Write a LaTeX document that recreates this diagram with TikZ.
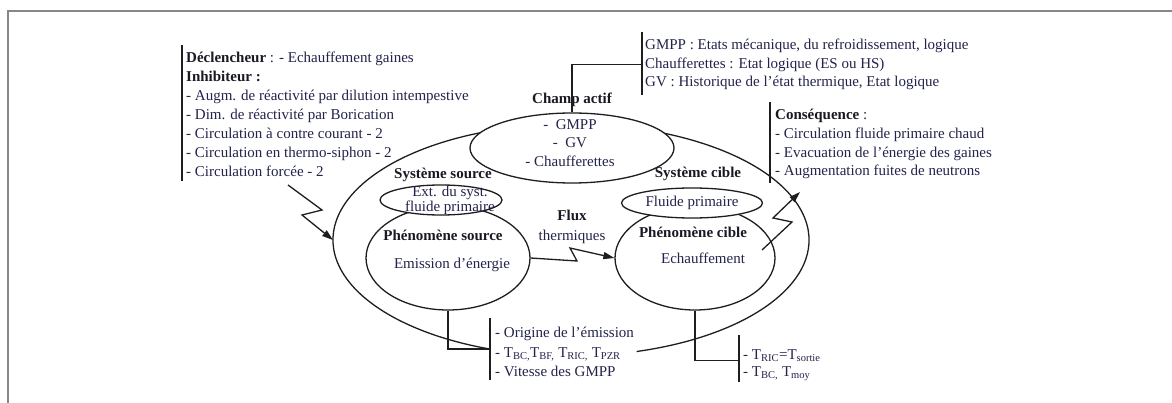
\documentclass[tikz,border=0pt]{standalone}
\usepackage{fontspec}
\setmainfont{Liberation Serif}
\usetikzlibrary{shapes.geometric,arrows.meta}
\definecolor{txtc}{RGB}{35,35,75}
\definecolor{lblc}{RGB}{25,25,35}
\definecolor{framec}{RGB}{135,135,135}
\definecolor{linec}{RGB}{30,30,30}
\begin{document}
\begin{tikzpicture}[x=1pt,y=-1pt,
  font=\fontsize{15}{19}\selectfont,
  lbl/.style={font=\fontsize{15}{19}\selectfont\bfseries, inner sep=0pt, text=lblc},
  txt/.style={inner sep=0pt, text=txtc},
  blk/.style={align=left, inner sep=0pt, anchor=north west, text=txtc},
  oval/.style={ellipse, draw=linec, line width=1.3pt, fill=white, inner sep=0pt},
  barline/.style={line width=1.3pt, draw=linec},
  conn/.style={line width=1.3pt, draw=linec},
  zz/.style={line width=1.3pt, draw=linec, -{Triangle[length=11pt,width=7pt]}},
]
\useasboundingbox (0,0) rectangle (1172,403);
\fill[white] (0,0) rectangle (1172,403);
\draw[framec, line width=2.2pt] (8,404) -- (8,11) -- (1173,11);

% outer open ellipse
\coordinate (oc) at (571,240);
\coordinate (outW) at (333,240);
\draw[conn] (oc) ++(-74:238pt and 116pt) arc[start angle=-74, end angle=250, x radius=238pt, y radius=116pt];

% phenomena ellipses
\node[oval, minimum width=164pt, minimum height=104pt] (srcph) at (448,258) {};
\node[oval, minimum width=160pt, minimum height=104pt] (cibph) at (695,258) {};
% system ellipses
\node[oval, minimum width=122pt, minimum height=30pt] (srcsys) at (441,200) {};
\node[oval, minimum width=141pt, minimum height=30pt] (cibsys) at (692,203) {};
% champ actif
\node[oval, minimum width=204pt, minimum height=70pt] (champ) at (572,148) {};

% labels
\node[lbl] (champlbl) at (572,100) {Champ actif};
\node[txt, align=center, font=\fontsize{15}{18.5}\selectfont] (champtxt) at (570,143) {-\ \ GMPP\\-\ \ GV\\- Chaufferettes};
\node[lbl] (srcsyslbl) at (443,175) {Système source};
\node[txt, align=center, font=\fontsize{15}{15}\selectfont] (srcsystxt) at (450,200) {Ext. du syst.\\fluide primaire};
\node[lbl] (srcphlbl) at (443,235) {Phénomène source};
\node[txt] (srcphtxt) at (452,265) {Emission d'énergie};
\node[lbl] (cibsyslbl) at (698,174) {Système cible};
\node[txt] (cibsystxt) at (692,203) {Fluide primaire};
\node[lbl] (cibphlbl) at (693,232) {Phénomène cible};
\node[txt] (cibphtxt) at (703,258) {Echauffement};
\node[lbl] (fluxlbl) at (572,215) {Flux};
\node[txt] (fluxtxt) at (572,237) {thermiques};

% text blocks
\node[blk] (lt) at (186,52) {\textcolor{lblc}{\bfseries Déclencheur} : - Echauffement gaines\\
\textcolor{lblc}{\bfseries Inhibiteur :}\\
- Augm. de réactivité par dilution intempestive\\
- Dim. de réactivité par Borication\\
- Circulation à contre courant - 2\\
- Circulation en thermo-siphon - 2\\
- Circulation forcée - 2};
\draw[barline] ([xshift=-4pt,yshift=7pt]lt.north west) -- ([xshift=-4pt,yshift=-4pt]lt.south west);

\node[blk, font=\fontsize{15}{18.5}\selectfont] (gm) at (645,39) {GMPP : Etats mécanique, du refroidissement, logique\\
Chaufferettes : Etat logique (ES ou HS)\\
GV : Historique de l'état thermique, Etat logique};
\draw[barline] ([xshift=-3pt,yshift=7pt]gm.north west) -- ([xshift=-3pt,yshift=-5pt]gm.south west);

\node[blk, font=\fontsize{15}{18.7}\selectfont] (cq) at (775,109) {\textcolor{lblc}{\bfseries Conséquence} :\\
- Circulation fluide primaire chaud\\
- Evacuation de l'énergie des gaines\\
- Augmentation fuites de neutrons};
\draw[barline] ([xshift=-5pt,yshift=7pt]cq.north west) -- ([xshift=-5pt,yshift=-4pt]cq.south west);

\node[blk, font=\fontsize{15}{19.5}\selectfont] (sp) at (495,327) {- Origine de l'émission\\
- T\textsubscript{BC,}T\textsubscript{BF,} T\textsubscript{RIC,} T\textsubscript{PZR}\\
- Vitesse des GMPP};
\draw[barline] ([xshift=-5pt,yshift=9pt]sp.north west) -- ([xshift=-5pt,yshift=-3pt]sp.south west);

\node[blk, font=\fontsize{15}{17}\selectfont] (cp) at (743,349) {- T\textsubscript{RIC}=T\textsubscript{sortie}\\
- T\textsubscript{BC,} T\textsubscript{moy}};
\draw[barline] ([xshift=-4pt,yshift=14pt]cp.north west) -- ([xshift=-4pt,yshift=-1pt]cp.south west);

% connectors to blocks
\coordinate (gmj) at ([xshift=-3pt]gm.west);
\draw[conn] (champ.north) |- (gmj);
\coordinate (spj) at ([xshift=-5pt,yshift=3pt]sp.west);
\draw[conn] (srcph.south) |- (spj);
\coordinate (cpj) at ([xshift=-4pt,yshift=4pt]cp.west);
\draw[conn] (cibph.south) |- (cpj);

% lightning arrows
\coordinate (ls) at (288,185);
\draw[zz] (ls) -- (322,210) -- (302,215) -- (outW);
\draw[zz] (srcph.east) -- (577,261) -- (570,248) -- (cibph.west);
\coordinate (rs) at (762,250);
\coordinate (rt) at (800,192);
\draw[zz] (rs) -- (792,222) -- (773,218) -- (rt);
\end{tikzpicture}
\end{document}
